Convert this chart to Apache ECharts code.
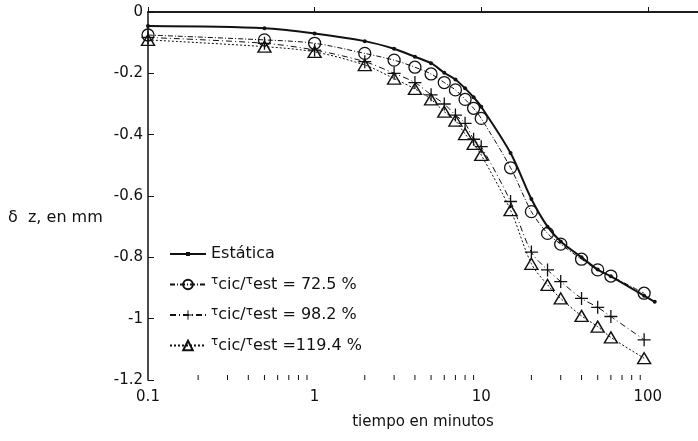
<!DOCTYPE html>
<html>
<head>
<meta charset="utf-8">
<script src="https://cdn.jsdelivr.net/npm/echarts@6/dist/echarts.min.js"></script>
<style>
  html, body { margin: 0; padding: 0; background: #fff; }
  #chart { width: 698px; height: 441px; }
</style>
</head>
<body>
<div id="chart"></div>
<script>
// tiempo (min) de cada lectura
const tiempos = [0.1, 0.5, 1, 2, 3, 4, 5, 6, 7, 8, 9, 10, 15, 20, 25, 30, 40, 50, 60, 95];
const tiemposEstatica = [0.1, 0.5, 1, 2, 3, 4, 5, 6, 7, 8, 9, 10, 15, 20, 25, 30, 40, 50, 60, 95, 110];

// asentamiento δz (mm)
const estatica = [-0.046, -0.053, -0.07, -0.095, -0.12, -0.146, -0.167, -0.198, -0.22, -0.249, -0.278, -0.309,
  -0.46, -0.61, -0.70, -0.748, -0.80, -0.84, -0.862, -0.925, -0.945];
const cic725 = [-0.075, -0.091, -0.102, -0.135, -0.157, -0.18, -0.202, -0.23, -0.254, -0.285, -0.314, -0.347,
  -0.508, -0.651, -0.722, -0.757, -0.806, -0.841, -0.861, -0.917];
const cic982 = [-0.083, -0.102, -0.124, -0.162, -0.2, -0.23, -0.27, -0.30, -0.336, -0.363, -0.415, -0.439,
  -0.618, -0.783, -0.841, -0.879, -0.934, -0.963, -0.993, -1.069];
const cic1194 = [-0.091, -0.113, -0.13, -0.173, -0.217, -0.251, -0.285, -0.325, -0.354, -0.398, -0.43, -0.466,
  -0.646, -0.821, -0.89, -0.934, -0.991, -1.026, -1.061, -1.129];

const nombres = ['Estática', 'τcic/τest = 72.5 %', 'τcic/τest = 98.2 %', 'τcic/τest =119.4 %'];
const xTickLabels = ['0.1', '1', '10', '100'];
const minorTicks = [0.2, 0.3, 0.4, 0.5, 0.6, 0.7, 0.8, 0.9, 2, 3, 4, 5, 6, 7, 8, 9,
  20, 30, 40, 50, 60, 70, 80, 90];

const ink = '#111';
const font = 'DejaVu Sans';
const plusPath = 'path://M-0.6,-6H0.6V-0.6H6V0.6H0.6V6H-0.6V0.6H-6V-0.6H-0.6Z';
const estaticaIcon = 'path://M0,1.1H36V2.9H0ZM16,0H20V4H16Z';

function pares(xs, ys) {
  return xs.map((x, i) => [x, ys[i]]);
}

const chart = echarts.init(document.getElementById('chart'));

chart.setOption({
  backgroundColor: '#fff',
  animation: false,
  textStyle: { fontFamily: font, color: ink },
  title: {
    text: 'δ  z, en mm',
    left: 3, top: 205,
    textStyle: { fontFamily: font, fontSize: 16, fontWeight: 'normal', color: ink }
  },
  grid: { left: 148, right: 0, top: 12, bottom: 61 },
  legend: {
    data: [{ name: nombres[0], icon: estaticaIcon }, nombres[1], nombres[2], nombres[3]],
    orient: 'vertical',
    left: 164, top: 241,
    itemWidth: 36, itemHeight: 12, itemGap: 13,
    textStyle: {
      fontFamily: font, fontSize: 16, color: ink,
      rich: {
        t: { fontFamily: font, fontSize: 12, color: ink, padding: [0, 0, 7, 0] },
        n: { fontFamily: font, fontSize: 16, color: ink }
      }
    },
    formatter: name => {
      if (name === 'Estática') return '{n|Estática}';
      return '{t|τ}{n|cic/}{t|τ}{n|' + name.slice(name.indexOf('est')) + '}';
    }
  },
  xAxis: [{
    type: 'log',
    logBase: 10,
    min: 0.1, max: 200,
    name: 'tiempo en minutos',
    nameLocation: 'middle',
    nameGap: 35,
    nameTextStyle: { fontFamily: font, fontSize: 15, color: ink },
    axisLine: { lineStyle: { color: ink, width: 1.5 } },
    axisTick: { inside: true, length: 5, lineStyle: { color: ink } },
    axisLabel: {
      fontFamily: font, fontSize: 15, color: ink, margin: 10,
      showMaxLabel: false,
      formatter: v => {
        const s = String(+v.toPrecision(3));
        return xTickLabels.includes(s) ? s : '';
      }
    },
    splitLine: { show: false }
  }, {
    type: 'log',
    logBase: 10,
    min: 0.1, max: 200,
    position: 'top',
    axisLine: { lineStyle: { color: ink, width: 1.5 } },
    axisTick: { show: false },
    axisLabel: { show: false },
    splitLine: { show: false }
  }],
  yAxis: {
    type: 'value',
    min: -1.2, max: 0, interval: 0.2,
    axisLine: { show: true, lineStyle: { color: ink, width: 1.5 } },
    axisTick: { show: true, inside: true, length: 6, lineStyle: { color: ink } },
    axisLabel: { fontFamily: font, fontSize: 15, color: ink, margin: 5 },
    splitLine: { show: false }
  },
  series: [
    {
      name: nombres[0],
      type: 'line',
      data: pares(tiemposEstatica, estatica),
      smooth: 0.3,
      symbol: 'circle', symbolSize: 4,
      itemStyle: { color: ink },
      lineStyle: { color: ink, width: 2 },
      z: 5
    },
    {
      name: nombres[1],
      type: 'line',
      data: pares(tiempos, cic725),
      smooth: 0.3,
      symbol: 'circle', symbolSize: 12,
      itemStyle: { color: 'rgba(0,0,0,0)', borderColor: ink, borderWidth: 1.3 },
      lineStyle: { color: ink, width: 1, type: [5, 2, 1, 2] }
    },
    {
      name: nombres[2],
      type: 'line',
      data: pares(tiempos, cic982),
      smooth: 0.3,
      symbol: plusPath, symbolSize: 13,
      itemStyle: { color: ink },
      lineStyle: { color: ink, width: 1, type: [6, 3, 1, 3] }
    },
    {
      name: nombres[3],
      type: 'line',
      data: pares(tiempos, cic1194),
      smooth: 0.3,
      symbol: 'triangle', symbolSize: [13, 11],
      itemStyle: { color: 'rgba(0,0,0,0)', borderColor: ink, borderWidth: 1.4 },
      lineStyle: { color: ink, width: 1, type: [2, 2] }
    },
    {
      // marcas menores del eje logarítmico
      type: 'custom',
      silent: true,
      data: minorTicks.map(v => [v, -1.2]),
      renderItem: (params, api) => {
        const p = api.coord([api.value(0), api.value(1)]);
        return {
          type: 'line',
          shape: { x1: p[0], y1: p[1], x2: p[0], y2: p[1] - 5 },
          style: { stroke: ink, lineWidth: 1 }
        };
      }
    }
  ]
});
</script>
</body>
</html>
